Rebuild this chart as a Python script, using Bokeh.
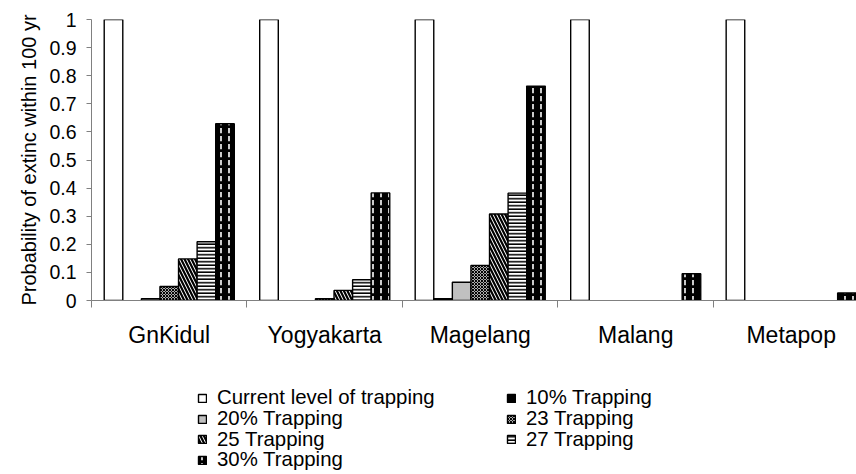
import numpy as np
from bokeh.plotting import figure
from bokeh.layouts import column
from bokeh.models import Range1d, FixedTicker, Legend, LegendItem, NumeralTickFormatter, ColumnDataSource
from bokeh.embed import file_html
from bokeh.resources import INLINE

categories = ["GnKidul", "Yogyakarta", "Magelang", "Malang", "Metapop"]
series = ["Current level of trapping", "10% Trapping", "20% Trapping", "23 Trapping",
          "25 Trapping", "27 Trapping", "30% Trapping"]
current = [1.0, 1.0, 1.0, 1.0, 1.0]
t10 = [0.0, 0.0, 0.006, 0.0, 0.0]
t20 = [0.006, 0.0, 0.065, 0.0, 0.0]
t23 = [0.05, 0.006, 0.125, 0.0, 0.0]
t25 = [0.148, 0.036, 0.308, 0.0, 0.0]
t27 = [0.209, 0.074, 0.382, 0.0, 0.0]
t30 = [0.629, 0.383, 0.763, 0.095, 0.027]
y_ticks = [0, 0.1, 0.2, 0.3, 0.4, 0.5, 0.6, 0.7, 0.8, 0.9, 1]
# legend rows (two entries per row)
legend_rows = [[0, 1], [2, 3], [4, 5], [6]]

values = [current, t10, t20, t23, t25, t27, t30]
styles = [
    dict(fill_color="white"),
    dict(fill_color="black"),
    dict(fill_color="#c0c0c0"),
    dict(fill_color="white", hatch_pattern="diagonal_cross", hatch_color="black", hatch_scale=3, hatch_weight=1.2),
    dict(fill_color="white", hatch_pattern="left_diagonal_line", hatch_color="black", hatch_scale=7, hatch_weight=2.2),
    dict(fill_color="white", hatch_pattern="horizontal_line", hatch_color="black", hatch_scale=3.5, hatch_weight=1.6),
    dict(fill_color="black", hatch_pattern="vertical_dash", hatch_color="white", hatch_scale=8, hatch_weight=1.6),
]

FONT = "Liberation Sans"
n_cat = len(categories)
n_ser = len(series)
bar_w = 0.1195

p = figure(width=856, height=360, output_backend="svg", toolbar_location=None,
           x_range=Range1d(0, 4.92), y_range=Range1d(0, 1),
           min_border_left=91, min_border_right=0, min_border_top=19, min_border_bottom=60)
p.outline_line_color = None
p.xgrid.visible = False
p.ygrid.visible = False
p.background_fill_color = "white"
p.border_fill_color = "white"

centers = np.arange(n_cat) + 0.5
sources = []
for j, (name, vals, st) in enumerate(zip(series, values, styles)):
    vals = np.asarray(vals, dtype=float)
    xs = centers + (j - (n_ser - 1) / 2) * bar_w
    mask = vals > 0
    src = ColumnDataSource(dict(x=xs[mask], top=vals[mask]))
    sources.append(src)
    p.vbar(x="x", top="top", bottom=0, width=bar_w, source=src,
           line_color="black", line_width=1.4, **st)

# y axis
yax = p.yaxis[0]
yax.ticker = FixedTicker(ticks=y_ticks, minor_ticks=[])
yax.formatter = NumeralTickFormatter(format="0.[0]")
yax.axis_label = "Probability of extinc within 100 yr"
yax.axis_label_text_font = FONT
yax.axis_label_text_font_style = "normal"
yax.axis_label_text_font_size = "20px"
yax.axis_label_text_color = "black"
yax.axis_label_standoff = 6
yax.major_label_text_font = FONT
yax.major_label_text_font_size = "19.5px"
yax.major_label_text_color = "black"
yax.major_label_standoff = 10
yax.major_tick_out = 5
yax.major_tick_in = 0
yax.axis_line_color = "#808080"
yax.major_tick_line_color = "#808080"

# x axis: labels at category centers, ticks at boundaries
xax = p.xaxis[0]
xax.ticker = FixedTicker(ticks=list(centers), minor_ticks=list(np.arange(n_cat + 1)))
xax.major_label_overrides = {float(c): lab for c, lab in zip(centers, categories)}
xax.major_label_text_font = FONT
xax.major_label_text_font_size = "23px"
xax.major_label_text_color = "black"
xax.major_label_standoff = 14
xax.major_tick_out = 0
xax.major_tick_in = 0
xax.minor_tick_out = 7
xax.minor_tick_in = 0
xax.minor_tick_line_color = "#808080"
xax.axis_line_color = "#808080"

# legend figure (its frame is aligned with the chart's frame: left edge at x=91)
LH = 114
lf = figure(width=856, height=LH, output_backend="svg", toolbar_location=None,
            x_range=Range1d(-100, -99), y_range=Range1d(-100, -99),
            x_axis_location=None, y_axis_location=None,
            min_border_left=0, min_border_right=0, min_border_top=0, min_border_bottom=0)
lf.outline_line_color = None
lf.xgrid.visible = False
lf.ygrid.visible = False
lf.border_fill_color = "white"
lf.background_fill_color = "white"
renderers = []
for src, st in zip(sources, styles):
    r = lf.vbar(x="x", top="top", bottom=0, width=bar_w, source=src,
                line_color="black", line_width=1.4, **st)
    r.visible = False
    renderers.append(r)

row_bottoms = [64.8, 43.8, 23.3, 2.8]  # pixels above the bottom edge
for row, vy in zip(legend_rows, row_bottoms):
    items = [LegendItem(label=series[k], renderers=[renderers[k]]) for k in row]
    leg = Legend(items=items, location=(106, vy), orientation="horizontal",
                 label_text_font=FONT, label_text_font_size="20.4px", label_text_color="black",
                 glyph_width=10, glyph_height=10, label_standoff=10, label_width=289,
                 label_height=18, spacing=0, padding=0, margin=0,
                 inactive_fill_alpha=0,
                 border_line_color=None, background_fill_alpha=0)
    lf.add_layout(leg, "center")

layout = column(p, lf, spacing=0)
open("out.html", "w").write(file_html(layout, INLINE))
